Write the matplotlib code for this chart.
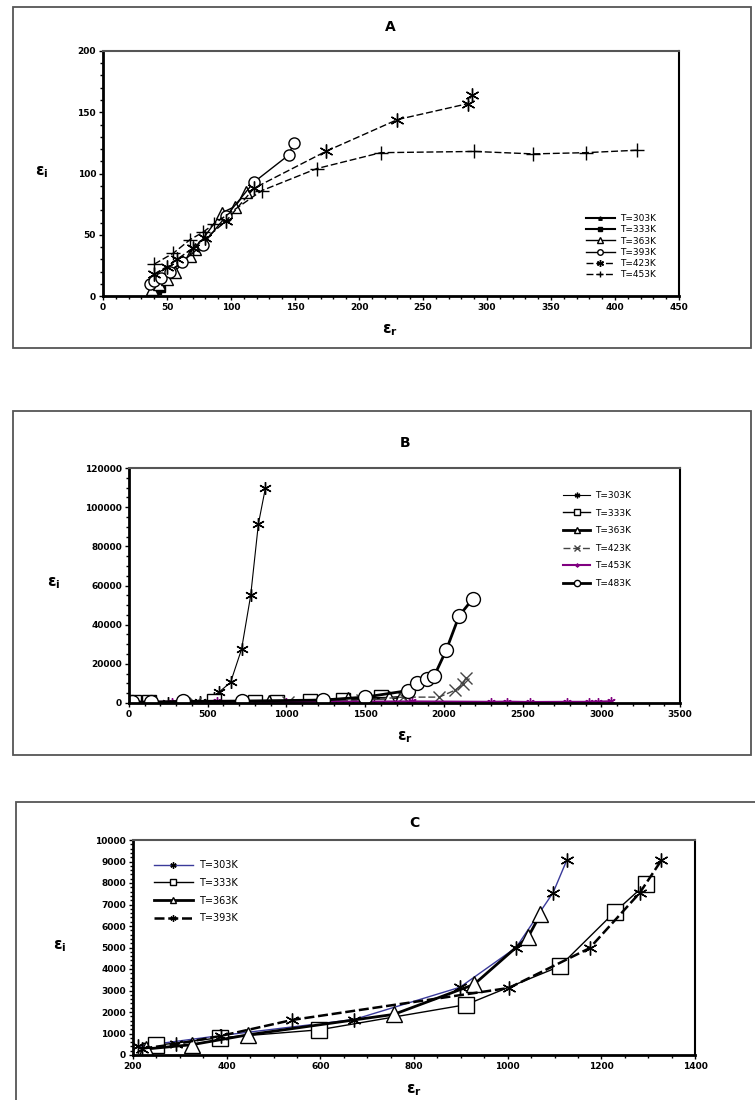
import matplotlib.pyplot as plt
from matplotlib.patches import Rectangle
from matplotlib.ticker import MultipleLocator

plt.rcParams['font.family'] = ['DejaVu Sans']
plt.rcParams['mathtext.fontset'] = 'dejavusans'

W, H = 755, 1100

# ---- panel A data (eps_r, eps_i) ----
a303_x = [37, 40, 43, 46]
a303_y = [4, 5, 6, 8]
a333_x = [39, 41, 43, 46]
a333_y = [1, 2, 4, 6]
a363_x = [38, 44, 50, 56, 68, 72, 93, 103, 112]
a363_y = [6, 10, 14, 20, 33, 38, 68, 73, 85]
a393_x = [37, 40, 45, 52, 62, 78, 96, 118, 145, 149]
a393_y = [10, 12, 15, 20, 28, 42, 65, 93, 115, 125]
a423_x = [40, 50, 58, 70, 80, 96, 118, 174, 230, 285, 288]
a423_y = [18, 24, 30, 39, 47, 61, 88, 118, 144, 157, 164]
a453_x = [40, 55, 68, 78, 87, 124, 167, 217, 290, 336, 377, 417]
a453_y = [26, 35, 46, 52, 59, 86, 104, 117, 118, 116, 117, 119]

# ---- panel B data ----
b303_x = [30, 250, 450, 540, 569, 645, 715, 773, 822, 867]
b303_y = [0, 200, 500, 2500, 5400, 10500, 27500, 55000, 91500, 110000]
b333_x = [30, 130, 540, 800, 940, 1150, 1360, 1600]
b333_y = [600, 600, 800, 600, 500, 800, 1500, 3000]
b363_x = [890, 1390, 1650, 1725]
b363_y = [500, 2000, 2500, 2900]
b423_x = [420, 1010, 1480, 1740, 1970, 2070, 2120, 2140]
b423_y = [0, 500, 1500, 3000, 3000, 6500, 9500, 13000]
b453_x = [30, 270, 560, 1000, 1800, 2300, 2400, 2550, 2780, 2920, 2980, 3060]
b453_y = [500, 600, 800, 600, 800, 600, 700, 500, 600, 600, 700, 900]
b483_x = [20, 140, 340, 720, 1230, 1500, 1770, 1830, 1890, 1940, 2015, 2097, 2182]
b483_y = [500, 500, 800, 1000, 1500, 3000, 6300, 10000, 12500, 14000, 27000, 44500, 53000]

# ---- panel C data ----
c303_x = [210, 385, 672, 898, 1018, 1097, 1126]
c303_y = [400, 900, 1650, 3150, 5000, 7550, 9050]
c333_x = [250, 385, 597, 911, 1111, 1229, 1296]
c333_y = [450, 800, 1170, 2340, 4120, 6660, 7970]
c363_x = [228, 326, 446, 757, 928, 1044, 1070]
c363_y = [280, 480, 940, 1890, 3280, 5500, 6550]
c393_x = [220, 292, 388, 540, 1003, 1175, 1282, 1328]
c393_y = [300, 510, 890, 1630, 3120, 4970, 7540, 9050]

star = (6, 2, 0)
dash = (5, 2)

fig = plt.figure(figsize=(W / 100, H / 100), dpi=100)


def px_axes(l, t, r, b):
    return fig.add_axes([l / W, 1 - b / H, (r - l) / W, (b - t) / H])


def box(l, t, r, b):
    fig.patches.append(Rectangle((l / W, 1 - b / H), (r - l) / W, (b - t) / H,
                                 transform=fig.transFigure, fill=False,
                                 edgecolor='#555555', lw=1.3))


def style(ax, xmaj, xmin, ymaj, ymin):
    ax.xaxis.set_major_locator(MultipleLocator(xmaj))
    ax.xaxis.set_minor_locator(MultipleLocator(xmin))
    ax.yaxis.set_major_locator(MultipleLocator(ymaj))
    ax.yaxis.set_minor_locator(MultipleLocator(ymin))
    ax.tick_params(which='major', length=3, width=1, labelsize=6.5, pad=2)
    ax.tick_params(which='minor', length=2, width=1)
    for lab in ax.get_xticklabels() + ax.get_yticklabels():
        lab.set_fontweight('bold')
    for s in ['left', 'bottom']:
        ax.spines[s].set_linewidth(2)
    for s in ['top', 'right']:
        ax.spines[s].set_linewidth(1.5)
    ax.spines['top'].set_color('#555555')


def ftext(x, y, s, **kw):
    fig.text(x / W, 1 - y / H, s, ha='center', va='center', **kw)


# ================= A =================
box(13, 7, 751, 348)
ax = px_axes(103, 51, 679, 296)
ax.plot(a303_x, a303_y, '-', color='k', lw=1.5, marker='^', ms=5, mfc='k', label='T=303K')
ax.plot(a333_x, a333_y, '-', color='k', lw=1.5, marker='s', ms=5, mfc='k', label='T=333K')
ax.plot(a363_x, a363_y, '-', color='k', lw=1, marker='^', ms=8, mfc='white', label='T=363K')
ax.plot(a393_x, a393_y, '-', color='k', lw=1, marker='o', ms=8, mfc='white', label='T=393K')
ax.plot(a423_x, a423_y, '--', dashes=dash, color='k', lw=1, marker=star, ms=10, label='T=423K')
ax.plot(a453_x, a453_y, '--', dashes=dash, color='k', lw=1, marker='+', ms=10, mew=1, label='T=453K')
ax.set_xlim(0, 450)
ax.set_ylim(0, 200)
style(ax, 50, 10, 50, 10)
ax.legend(loc='upper left', bbox_to_anchor=(586 / W, 1 - 214 / H),
          bbox_transform=fig.transFigure, frameon=False, fontsize=6.5,
          handlelength=3.2, handletextpad=0.6, labelspacing=0.25,
          borderpad=0, borderaxespad=0, markerscale=0.5)
ftext(390, 27, 'A', fontsize=10, fontweight='bold')
ftext(390, 330, r'$\mathbf{\epsilon_r}$', fontsize=11)
ftext(42, 172, r'$\mathbf{\epsilon_i}$', fontsize=11)

# ================= B =================
box(13, 411, 751, 755)
ax = px_axes(129, 468, 680, 703)
ax.plot(b303_x, b303_y, '-', color='k', lw=0.8, marker=star, ms=9, label='T=303K')
ax.plot(b333_x, b333_y, '-', color='k', lw=1, marker='s', ms=10, mfc='white', label='T=333K')
ax.plot(b363_x, b363_y, '-', color='k', lw=2, marker='^', ms=10, mfc='white', label='T=363K')
ax.plot(b423_x, b423_y, '--', dashes=dash, color='#444444', lw=1, marker='x', ms=9, label='T=423K')
ax.plot(b453_x, b453_y, '-', color='#800080', lw=1.5, marker=star, ms=6, label='T=453K')
ax.plot(b483_x, b483_y, '-', color='k', lw=2, marker='o', ms=10, mfc='white', label='T=483K')
ax.set_xlim(0, 3500)
ax.set_ylim(0, 120000)
style(ax, 500, 100, 20000, 5000)
ax.legend(loc='upper left', bbox_to_anchor=(563 / W, 1 - 491 / H),
          bbox_transform=fig.transFigure, frameon=False, fontsize=6.5,
          handlelength=3.0, handletextpad=0.6, labelspacing=0.95,
          borderpad=0, borderaxespad=0, markerscale=0.45)
ftext(405, 443, 'B', fontsize=10, fontweight='bold')
ftext(405, 737, r'$\mathbf{\epsilon_r}$', fontsize=11)
ftext(54, 583, r'$\mathbf{\epsilon_i}$', fontsize=11)

# ================= C =================
box(16, 802, 760, 1110)
ax = px_axes(133, 840, 695, 1055)
ax.plot(c303_x, c303_y, '-', color='#3a3a9a', lw=1, marker=star, ms=10, mec='k', label='T=303K')
ax.plot(c333_x, c333_y, '-', color='k', lw=1, marker='s', ms=11, mfc='white', label='T=333K')
ax.plot(c363_x, c363_y, '-', color='k', lw=2, marker='^', ms=11, mfc='white', label='T=363K')
ax.plot(c393_x, c393_y, '--', dashes=(4, 1.5), color='k', lw=1.8, marker=star, ms=10, label='T=393K')
ax.set_xlim(200, 1400)
ax.set_ylim(0, 10000)
style(ax, 200, 50, 1000, 200)
ax.legend(loc='upper left', bbox_to_anchor=(154 / W, 1 - 860 / H),
          bbox_transform=fig.transFigure, frameon=False, fontsize=7,
          handlelength=4.0, handletextpad=0.6, labelspacing=0.8,
          borderpad=0, borderaxespad=0, markerscale=0.45)
ftext(414, 823, 'C', fontsize=10, fontweight='bold')
ftext(414, 1090, r'$\mathbf{\epsilon_r}$', fontsize=11)
ftext(60, 946, r'$\mathbf{\epsilon_i}$', fontsize=11)

fig.savefig('out.png', dpi=100)
